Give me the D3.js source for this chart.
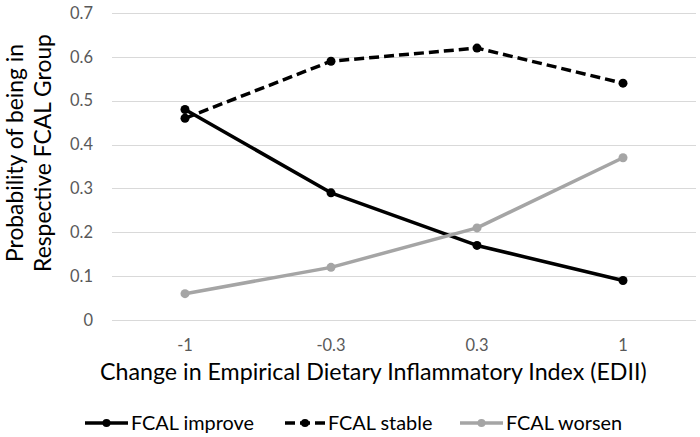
<!DOCTYPE html>
<html>
<head>
<meta charset="utf-8">
<script src="https://cdn.jsdelivr.net/npm/d3@7"></script>
<style>
  body { margin: 0; background: #fff; }
  svg { font-family: Lato, "Open Sans", sans-serif; }
  .grid line { stroke: #d9d9d9; stroke-width: 1; }
  .tick-label { fill: #595959; font-size: 18px; }
  .axis-title { fill: #000; font-size: 25px; }
  .legend-text { fill: #000; font-size: 22px; }
</style>
</head>
<body>
<div id="chart"></div>
<script>
// Data
var categories = ["-1", "-0.3", "0.3", "1"];
var improveValues = [0.48, 0.29, 0.17, 0.09];
var stableValues = [0.46, 0.59, 0.62, 0.54];
var worsenValues = [0.06, 0.12, 0.21, 0.37];
var yTicks = [0, 0.1, 0.2, 0.3, 0.4, 0.5, 0.6, 0.7];
var seriesNames = ["FCAL improve", "FCAL stable", "FCAL worsen"];

var width = 700, height = 437;
var plot = {left: 112, right: 696, top: 13, bottom: 320};

var series = [
	{name: seriesNames[0], values: improveValues, color: "#000000", dash: null},
	{name: seriesNames[1], values: stableValues, color: "#000000", dash: "10,5"},
	{name: seriesNames[2], values: worsenValues, color: "#a5a5a5", dash: null}
];

var svg = d3.select("#chart").append("svg")
	.attr("width", width)
	.attr("height", height);

//Scale a text's font so it spans the wanted width
function fitWidth(sel, target) {
	var w = sel.node().getComputedTextLength();
	var fs = parseFloat(sel.style("font-size"));
	var size = fs * target / w;
	sel.style("font-size", size + "px");
	return size;
}

var x = d3.scalePoint()
	.domain(categories)
	.range([plot.left, plot.right])
	.padding(0.5);

var y = d3.scaleLinear()
	.domain([0, 0.7])
	.range([plot.bottom, plot.top]);

////////////////// Gridlines & tick labels //////////////////
var grid = svg.append("g").attr("class", "grid");
grid.selectAll("line")
	.data(yTicks)
	.enter().append("line")
	.attr("x1", plot.left)
	.attr("x2", plot.right)
	.attr("y1", function(d) { return Math.round(y(d)) + 0.5; })
	.attr("y2", function(d) { return Math.round(y(d)) + 0.5; });

var yLabels = svg.selectAll(".y-label")
	.data(yTicks)
	.enter().append("text")
	.attr("class", "tick-label y-label")
	.attr("x", 93)
	.attr("y", function(d) { return y(d); })
	.attr("dy", "0.35em")
	.attr("text-anchor", "end")
	.text(function(d) { return d === 0 ? "0" : d3.format(".1f")(d); });

var xLabels = svg.selectAll(".x-label")
	.data(categories)
	.enter().append("text")
	.attr("class", "tick-label x-label")
	.attr("x", function(d) { return x(d); })
	.attr("y", 345)
	.attr("dy", "0.35em")
	.attr("text-anchor", "middle")
	.text(function(d) { return d; });

var tickSize = fitWidth(yLabels.filter(function(d) { return d === 0.7; }), 23);
svg.selectAll(".tick-label").style("font-size", tickSize + "px");

////////////////// Axis titles //////////////////
var xTitle = svg.append("text")
	.attr("class", "axis-title")
	.attr("x", 100)
	.attr("y", 380)
	.text("Change in Empirical Dietary Inflammatory Index (EDII)");
fitWidth(xTitle, 547);

var yTitle = svg.append("g")
	.attr("transform", "translate(0,153)rotate(-90)");
var yLine1 = yTitle.append("text").attr("class", "axis-title")
	.attr("text-anchor", "middle").attr("y", 23).text("Probability of being in");
var yLine2 = yTitle.append("text").attr("class", "axis-title")
	.attr("text-anchor", "middle").attr("y", 51).text("Respective FCAL Group");
var ySize = fitWidth(yLine1, 218);
yLine2.style("font-size", ySize + "px");

////////////////// Lines & markers //////////////////
var line = d3.line()
	.x(function(d, i) { return x(categories[i]); })
	.y(function(d) { return y(d); });

var groups = svg.selectAll(".series")
	.data(series)
	.enter().append("g")
	.attr("class", "series");

groups.append("path")
	.attr("fill", "none")
	.attr("stroke", function(d) { return d.color; })
	.attr("stroke-width", 3.5)
	.attr("stroke-linejoin", "round")
	.attr("stroke-dasharray", function(d) { return d.dash; })
	.attr("d", function(d) { return line(d.values); });

groups.selectAll("circle")
	.data(function(d) { return d.values.map(function(v, i) { return {v: v, i: i, color: d.color}; }); })
	.enter().append("circle")
	.attr("cx", function(d) { return x(categories[d.i]); })
	.attr("cy", function(d) { return y(d.v); })
	.attr("r", 4.5)
	.attr("fill", function(d) { return d.color; });

////////////////// Legend //////////////////
var legendX = [85, 285, 460];
var legendLen = [43, 40, 43];
var legendTextWidth = [123, 102, 115];
var legend = svg.selectAll(".legend")
	.data(series)
	.enter().append("g")
	.attr("class", "legend")
	.attr("transform", function(d, i) { return "translate(" + legendX[i] + ",423)"; });

legend.append("line")
	.attr("x1", 0)
	.attr("x2", function(d, i) { return legendLen[i]; })
	.attr("stroke", function(d) { return d.color; })
	.attr("stroke-width", 3.5)
	.attr("stroke-dasharray", function(d) { return d.dash; });

legend.append("circle")
	.attr("cx", function(d, i) { return legendLen[i] / 2; })
	.attr("r", 4)
	.attr("fill", function(d) { return d.color; });

var legendTexts = legend.append("text")
	.attr("class", "legend-text")
	.attr("x", function(d, i) { return legendLen[i] + 3; })
	.attr("dy", "0.35em")
	.text(function(d) { return d.name; });

var legSize = fitWidth(legendTexts.filter(function(d, i) { return i === 0; }), legendTextWidth[0]);
legendTexts.style("font-size", legSize + "px");
</script>
</body>
</html>
